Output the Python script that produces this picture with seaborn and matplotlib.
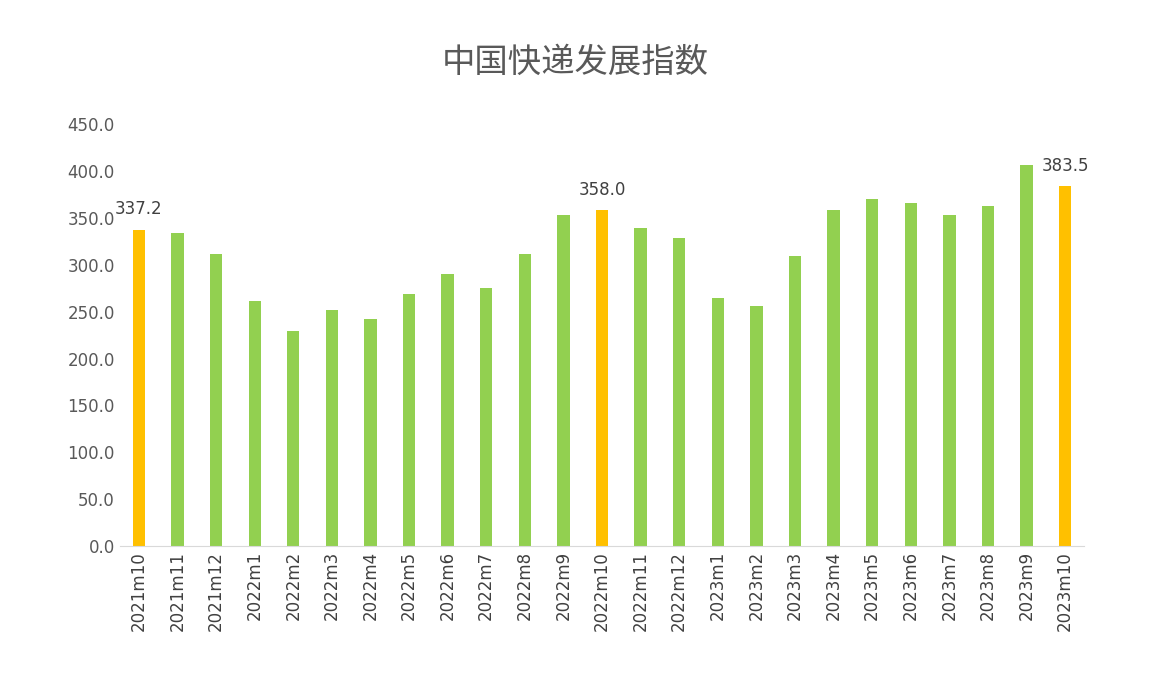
import matplotlib
matplotlib.use("Agg")
import matplotlib.pyplot as plt
from matplotlib import font_manager
import seaborn as sns
import pandas as pd

months = ["2021m10", "2021m11", "2021m12", "2022m1", "2022m2", "2022m3", "2022m4",
          "2022m5", "2022m6", "2022m7", "2022m8", "2022m9", "2022m10", "2022m11",
          "2022m12", "2023m1", "2023m2", "2023m3", "2023m4", "2023m5", "2023m6",
          "2023m7", "2023m8", "2023m9", "2023m10"]
values = [337.2, 334, 311, 261, 229, 252, 242, 269, 290, 275, 311, 353, 358.0,
          339, 328, 265, 256, 309, 358, 370, 366, 353, 362, 406, 383.5]
highlight = ["2021m10", "2022m10", "2023m10"]

df = pd.DataFrame({"month": months, "value": values})
palette = {m: ("#FFC000" if m in highlight else "#92D050") for m in months}

# find a CJK font for the title
cjk = None
for f in font_manager.fontManager.ttflist:
    if "CJK" in f.name and ("SC" in f.name or cjk is None):
        cjk = f.name
plt.rcParams["font.family"] = ["DejaVu Sans"] + ([cjk] if cjk else [])

fig = plt.figure(figsize=(11.5, 6.88), dpi=100)
ax = fig.add_axes([0.104, 0.206, 0.839, 0.614])
sns.barplot(data=df, x="month", y="value", hue="month", palette=palette,
            width=0.32, saturation=1, legend=False, ax=ax)

for i, (m, v) in enumerate(zip(months, values)):
    if m in highlight:
        ax.text(i, v + 12, f"{v:.1f}", ha="center", va="bottom", fontsize=12, color="#404040")

ax.set_ylim(0, 450)
ax.set_yticks(range(0, 451, 50))
ax.set_yticklabels([f"{t:.1f}" for t in range(0, 451, 50)])
ax.set_xlim(-0.5, len(months) - 0.5)
ax.set_xlabel("")
ax.set_ylabel("")
ax.tick_params(axis="x", rotation=90, labelsize=12, colors="#404040", length=0)
ax.tick_params(axis="y", labelsize=12, colors="#595959", length=0)
for s in ["top", "right", "left"]:
    ax.spines[s].set_visible(False)
ax.spines["bottom"].set_color("#D9D9D9")

fig.suptitle("中国快递发展指数", y=0.935, fontsize=24, color="#595959",
             fontfamily=cjk if cjk else "sans-serif")
fig.savefig("out.png", dpi=100)
